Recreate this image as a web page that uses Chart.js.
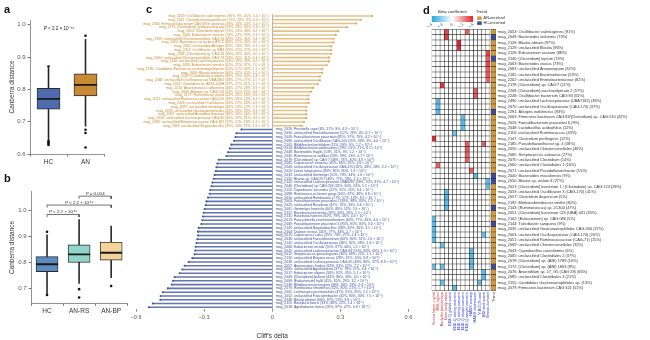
<!DOCTYPE html>
<html>
<head>
<meta charset="utf-8">
<script src="https://cdn.jsdelivr.net/npm/chart.js@4.4.1/dist/chart.umd.min.js"></script>
<style>
  html, body { margin: 0; padding: 0; background: #fff; }
  body { width: 650px; height: 340px; position: relative; overflow: hidden; font-family: 'Liberation Sans', Arial, sans-serif; }
  canvas { position: absolute; }
  .letter { position: absolute; font-size: 11px; font-weight: bold; line-height: 1; color: #111; }
</style>
</head>
<body>
<canvas id="chartA" width="140" height="170" style="left:0;top:0"></canvas>
<canvas id="chartB" width="140" height="170" style="left:0;top:170px"></canvas>
<canvas id="chartC" width="305" height="340" style="left:120px;top:0"></canvas>
<canvas id="chartD" width="225" height="340" style="left:425px;top:0"></canvas>
<canvas id="chartBeta" width="55" height="21" style="left:425px;top:6px"></canvas>
<canvas id="chartTrend" width="60" height="22" style="left:476px;top:9px"></canvas>
<div class="letter" style="left:4px;top:4px">a</div>
<div class="letter" style="left:4px;top:173px">b</div>
<div class="letter" style="left:146px;top:4px">c</div>
<div class="letter" style="left:423px;top:5px">d</div>
<script>
const FONT = "'Liberation Sans', Arial, sans-serif";
Chart.defaults.font.family = FONT;
Chart.defaults.animation = false;
Chart.defaults.responsive = false;
Chart.defaults.plugins.legend.display = false;
Chart.defaults.plugins.tooltip.enabled = false;

// ---- panel a: Canberra distance, HC vs AN
const aGroups = ['HC', 'AN'];
const aLow = [0.644, 0.686];
const aQ1 = [0.739, 0.780];
const aMed = [0.771, 0.814];
const aQ3 = [0.803, 0.848];
const aHigh = [0.866, 0.955];
const aOutGroup = ['HC', 'HC', 'HC', 'HC', 'HC', 'AN', 'AN', 'AN', 'AN'];
const aOutVal = [0.871, 0.640, 0.636, 0.632, 0.628, 0.966, 0.675, 0.665, 0.620];
const aColors = ['#4e6bad', '#c98a36'];
const aTicks = [0.6, 0.7, 0.8, 0.9, 1.0];
const aPText = 'P < 2.2 × 10⁻¹⁶';

// ---- panel b: HC, AN-RS, AN-BP
const bGroups = ['HC', 'AN-RS', 'AN-BP'];
const bLow = [0.682, 0.720, 0.742];
const bQ1 = [0.765, 0.800, 0.809];
const bMed = [0.793, 0.831, 0.837];
const bQ3 = [0.822, 0.867, 0.877];
const bHigh = [0.905, 0.964, 0.939];
const bOutGroup = ['HC', 'HC', 'AN-RS', 'AN-RS', 'AN-BP'];
const bOutVal = [0.917, 0.676, 0.698, 0.666, 0.710];
const bColors = ['#5b8dbf', '#8fd5c9', '#f4d49b'];
const bTicks = [0.7, 0.8, 0.9, 1.0];
const bPairs = [[0, 1], [0, 2], [1, 2]];
const bPairY = [0.983, 1.019, 1.053];
const bPairText = ['P < 2.2 × 10⁻¹⁶', 'P < 2.2 × 10⁻¹⁶', 'P = 0.014'];

// ---- panel c: Cliff's delta per MAG
const cNames = [
  'mag_2053: Oscillibacter valericigenes (80%, 9%, 31%, 3.4 × 10⁻⁷)',
  'mag_2047: Clostridium paraputrificum (72%, 13%, 9%, 3.4 × 10⁻⁷)',
  'mag_2060: Firmicutes bacterium CAG:83 in anorexia (78%, 16%, 24%, 3.4 × 10⁻⁷)',
  'mag_2771: [Clostridium] symbiosum group (74%, 19%, 30%, 3.4 × 10⁻⁷)',
  'mag_2054: Clostridium leptum (75%, 24%, 38%, 3.2 × 10⁻⁶)',
  'mag_2049: Eubacterium siraeum (70%, 22%, 39%, 3.1 × 10⁻⁶)',
  'mag_2199: unclassified Christensenellales CAG-74 (69%, 24%, 36%, 3.4 × 10⁻⁶)',
  'mag_2400: Ruminococcus lactaris ATCC (66%, 21%, 33%, 4.0 × 10⁻⁶)',
  'mag_2062: unclassified Alistipes (62%, 18%, 29%, 4.1 × 10⁻⁶)',
  'mag_2052: Oscillibacter sp. ER4 (59%, 15%, 27%, 4.6 × 10⁻⁶)',
  'mag_2058: [Clostridium] sp. CAG:58 (66%, 26%, 34%, 5.0 × 10⁻⁶)',
  'mag_2094: unclassified Christensenellales CAG-74 (58%, 20%, 31%, 5.4 × 10⁻⁶)',
  'mag_2140: unclassified Lachnospiraceae (54%, 18%, 28%, 6.2 × 10⁻⁶)',
  'mag_2083: Eubacterium ramulus (61%, 25%, 37%, 7.0 × 10⁻⁶)',
  'mag_2185: Candidatus Fimenecus excrementigallinarum (52%, 17%, 33%, 1.1 × 10⁻⁵)',
  'mag_2068: Blautia wexlerae (66%, 32%, 45%, 1.2 × 10⁻⁵)',
  'mag_2103: [Clostridium] scindens (49%, 18%, 30%, 1.4 × 10⁻⁵)',
  'mag_2084: unclassified Oscillospiraceae UBA1381 (48%, 17%, 27%, 1.5 × 10⁻⁵)',
  'mag_2051: Clostridium sp. AF34-10BH (57%, 27%, 41%, 1.7 × 10⁻⁵)',
  'mag_2013: Anaerotruncus colihominis (44%, 17%, 28%, 3.9 × 10⁻⁵)',
  'mag_2090: Alistipes sp. CAG:514 (41%, 15%, 25%, 4.8 × 10⁻⁵)',
  'mag_2177: Flavonifractor plautii (52%, 28%, 39%, 5.6 × 10⁻⁵)',
  'mag_2011: unclassified Ruminococcaceae CAG-110 (39%, 16%, 23%, 6.3 × 10⁻⁵)',
  'mag_2009: unclassified Oscillibacter (45%, 22%, 30%, 6.9 × 10⁻⁵)',
  'mag_2087: unclassified Gemmiger (36%, 13%, 22%, 7.4 × 10⁻⁵)',
  'mag_2035: unclassified Gastranaerophilales (42%, 20%, 33%, 8.1 × 10⁻⁵)',
  'mag_2097: unclassified Acutalibacteraceae (38%, 16%, 26%, 8.8 × 10⁻⁵)',
  'mag_2116: unclassified Lachnospiraceae CAG-95 (40%, 19%, 31%, 9.6 × 10⁻⁵)',
  'mag_2089: unclassified Ruminococcaceae CAG-382 (37%, 17%, 29%, 1.2 × 10⁻⁴)',
  'mag_2081: unclassified Negativibacillus (35%, 16%, 27%, 1.6 × 10⁻⁴)',
  'mag_2026: Prevotella copri (6%, 17%, 9%, 4.3 × 10⁻⁵)',
  'mag_2030: unclassified Faecalibacterium (12%, 29%, 4%, 8.7 × 10⁻⁵)',
  'mag_2049: Faecalibacterium prausnitzii (85%, 97%, 79%, 4.2 × 10⁻⁵)',
  'mag_2080: unclassified Oscillibacter CAG-103 (15%, 33%, 9%, 4.0 × 10⁻⁵)',
  'mag_2105: Bifidobacterium bifidum (11%, 29%, 9%, 1.2 × 10⁻⁵)',
  'mag_2010: Bifidobacterium adolescentis (29%, 51%, 21%, 6.1 × 10⁻⁶)',
  'mag_2048: Bacteroides fragilis (13%, 31%, 9%, 5.2 × 10⁻⁶)',
  'mag_2045: Ruminococcus callidus (19%, 39%, 13%, 4.7 × 10⁻⁶)',
  'mag_2079: [Clostridium] sp. CAG:7 (48%, 73%, 40%, 3.8 × 10⁻⁶)',
  'mag_2085: Coprococcus eutactus (41%, 66%, 35%, 2.8 × 10⁻⁶)',
  'mag_2040: unclassified Oscillospiraceae CAG-170 (24%, 48%, 18%, 2.2 × 10⁻⁶)',
  'mag_2020: Dorea longicatena (84%, 95%, 80%, 1.9 × 10⁻⁶)',
  'mag_2033: unclassified Gemmiger (51%, 78%, 44%, 1.6 × 10⁻⁶)',
  'mag_2152: Blautia sp. CAG:257 (46%, 72%, 39%, 1.3 × 10⁻⁶)',
  'mag_2142: unclassified Lachnospiraceae UBA3282 (39%, 70%, 31%, 4.7 × 10⁻⁶)',
  'mag_2046: [Clostridium] sp. CAG:245 (31%, 60%, 24%, 1.1 × 10⁻⁶)',
  'mag_2114: Coprobacter secundus (22%, 51%, 15%, 9.4 × 10⁻⁷)',
  'mag_2088: Ruminococcus bromii group (56%, 87%, 48%, 8.8 × 10⁻⁷)',
  'mag_2050: unclassified Romboutsia (27%, 57%, 19%, 8.1 × 10⁻⁷)',
  'mag_2003: Faecalibacterium prausnitzii 2 (88%, 98%, 83%, 7.2 × 10⁻⁷)',
  'mag_2025: unclassified Roseburia (42%, 74%, 33%, 6.6 × 10⁻⁷)',
  'mag_2061: Gemmiger formicilis (60%, 89%, 52%, 5.9 × 10⁻⁷)',
  'mag_2127: Roseburia intestinalis (33%, 66%, 26%, 5.1 × 10⁻⁷)',
  'mag_2131: Roseburia hominis (62%, 79%, 46%, 4.6 × 10⁻⁷)',
  'mag_2013: Parasutterella excrementihominis (60%, 77%, 43%, 4.0 × 10⁻⁷)',
  'mag_2069: Faecalibacterium prausnitzii 3 (85%, 95%, 80%, 3.6 × 10⁻⁷)',
  'mag_2145: unclassified Negativibacillus (38%, 69%, 30%, 3.1 × 10⁻⁷)',
  'mag_2104: Dialister invisus (45%, 77%, 34%, 2.7 × 10⁻⁷)',
  'mag_2015: Coprococcus catus (35%, 70%, 27%, 2.4 × 10⁻⁷)',
  'mag_2036: unclassified Faecalibacterium (60%, 90%, 51%, 2.0 × 10⁻⁷)',
  'mag_2141: unclassified Oscillospiraceae (48%, 82%, 38%, 1.8 × 10⁻⁷)',
  'mag_2066: Eubacterium rectale (55%, 87%, 44%, 1.5 × 10⁻⁷)',
  'mag_2041: unclassified Lachnospiraceae CAG-81 (50%, 84%, 40%, 1.3 × 10⁻⁷)',
  'mag_2012: Streptococcus parasanguinis (30%, 69%, 22%, 1.1 × 10⁻⁷)',
  'mag_2132: unclassified Butyricicoccus (28%, 67%, 20%, 9.8 × 10⁻⁸)',
  'mag_2038: unclassified Lachnospiraceae CAG-95 (48%, 86%, 37%, 8.9 × 10⁻⁸)',
  'mag_2057: Anaerostipes hadrus (63%, 93%, 52%, 7.2 × 10⁻⁸)',
  'mag_2065: unclassified Agathobacter (37%, 78%, 27%, 6.4 × 10⁻⁸)',
  'mag_2017: Eubacterium eligens (58%, 92%, 45%, 5.1 × 10⁻⁸)',
  'mag_2006: [Clostridium] bolteae (44%, 86%, 33%, 4.0 × 10⁻⁸)',
  'mag_2008: [Eubacterium] hallii (41%, 85%, 29%, 3.2 × 10⁻⁸)',
  'mag_2139: Bifidobacterium longum (39%, 84%, 28%, 2.4 × 10⁻⁸)',
  'mag_2075: Romboutsia timonensis (32%, 80%, 21%, 1.7 × 10⁻⁸)',
  'mag_2001: Lachnospira pectinoschiza (47%, 91%, 35%, 1.2 × 10⁻⁸)',
  'mag_2052: unclassified Fusicatenibacter (42%, 90%, 30%, 7.5 × 10⁻⁹)',
  'mag_2148: Blautia obeum (66%, 97%, 53%, 3.8 × 10⁻⁹)',
  'mag_2115: Roseburia faecis (33%, 88%, 22%, 1.4 × 10⁻⁹)',
  'mag_2018: Agathobacter faecis (59%, 97%, 47%, 6.8 × 10⁻¹⁰)'
];
const cDelta = [
  0.44, 0.39, 0.37, 0.33, 0.29, 0.28, 0.27, 0.27, 0.26, 0.26,
  0.26, 0.25, 0.25, 0.24, 0.22, 0.22, 0.21, 0.21, 0.20, 0.18,
  0.17, 0.16, 0.16, 0.16, 0.15, 0.15, 0.15, 0.15, 0.14, 0.13,
  -0.136, -0.158, -0.162, -0.168, -0.180, -0.187, -0.195, -0.202, -0.236, -0.242,
  -0.246, -0.249, -0.254, -0.258, -0.264, -0.268, -0.273, -0.276, -0.283, -0.290,
  -0.293, -0.298, -0.302, -0.305, -0.308, -0.312, -0.324, -0.327, -0.327, -0.330,
  -0.334, -0.337, -0.339, -0.342, -0.352, -0.368, -0.386, -0.396, -0.408, -0.430,
  -0.437, -0.442, -0.460, -0.482, -0.492, -0.493, -0.526, -0.543
];
const cTicks = [-0.6, -0.3, 0, 0.3, 0.6];
const cPosBar = '#e5c189', cNegBar = '#6576ae';
const cPosText = '#c6862c', cNegText = '#3a4d97';

// ---- panel d: associations with clinical variables
const dRows = [
  'mag_2053: Oscillibacter valericigenes (91%)',
  'mag_2049: Bacteroides uniformis (73%)',
  'mag_2128: Blautia obeum (97%)',
  'mag_2129: unclassified Blautia (96%)',
  'mag_2128: Eubacterium siraeum (88%)',
  'mag_2140: [Clostridium] leptum (73%)',
  'mag_2063: Bacteroides ovatus (73%)',
  'mag_2083: unclassified Anaerotignum (62%)',
  'mag_2165: unclassified Bacteroidaceae (53%)',
  'mag_2202: unclassified Enterobacteriaceae (82%)',
  'mag_2178: [Clostridium] sp. CAG:7 (51%)',
  'mag_2208: [Clostridium] saccharolyticum 2 (57%)',
  'mag_2248: Oscillibacter bacterium CAG:93 (61%)',
  'mag_2490: unclassified Lachnospiraceae (UBA7182) (36%)',
  'mag_2670: unclassified Oscillospiraceae (CAG-170) (37%)',
  'mag_2291: Alistipes indistinctus (93%)',
  'mag_2063: Firmicutes bacterium CAG:83/[Clostridium] sp. CAG:510 (42%)',
  'mag_2026: Faecalibacterium prausnitzii 6 (9%)',
  'mag_2048: Lactobacillus acidophilus (12%)',
  'mag_2110: unclassified Ruminococcus (43%)',
  'mag_2147: Clostridium perfringens (12%)',
  'mag_2185: Pseudoflavonifractor sp. 4 (58%)',
  'mag_2055: unclassified Christensenellales (46%)',
  'mag_2085: Streptococcus salivarius (27%)',
  'mag_2070: unclassified Clostridium (14%)',
  'mag_2060: unclassified Clostridiales 1 (16%)',
  'mag_2071: unclassified Pseudoflavonifractor (15%)',
  'mag_2040: Bacteroides massiliensis (9%)',
  'mag_2050: Blautia sp. isolate 4 (27%)',
  'mag_2023: [Clostridium] bacterium 1 / [Clostridium] sp. CAG:124 (29%)',
  'mag_2033: unclassified Oscillibacter 3 (CAG-170) (41%)',
  'mag_2057: Clostridium disporicum (5%)',
  'mag_2192: Methanobrevibacter smithii (80%)',
  'mag_2143: [Ruminococcus] sp. JC304 (47%)',
  'mag_2051: [Clostridium] bacterium CIS (UBA) 031 (35%)',
  'mag_2102: [Eubacterium] sp. CAG:086 (5%)',
  'mag_2144: Turicibacter sanguinis (9%)',
  'mag_2035: unclassified Gastranaerophilales CAG-306 (27%)',
  'mag_2003: unclassified Oscillospiraceae (CAG-170) (20%)',
  'mag_2051: unclassified Ruminococcaceae (CAG-71) (15%)',
  'mag_2069: unclassified Christensenellales (32%)',
  'mag_2043: Coprobacillus cateniformis (6%)',
  'mag_2065: unclassified Clostridiales 2 (37%)',
  'mag_2078: [Clostridium] sp. (ANI) 1789 (10%)',
  'mag_2172: [Clostridium] sp. (ANI) 1803 (8%)',
  'mag_2076: Anaerofilum sp. 17_G5 (CAG:28) (66%)',
  'mag_2085: unclassified Clostridiales 3 (21%)',
  'mag_2155: Candidatus Gastranaerophilales sp. (13%)',
  'mag_2079: Firmicutes bacterium CAG:321 (51%)'
];
const dCols = [
  'Serum leptin, ng/ml', 'BMI, kg/m²', 'Body fat percentage', 'Lean body mass',
  'EDE-Q global score', 'EDE-Q eating restraint', 'EDE-Q eating concern', 'EDE-Q shape concern',
  'EDE-Q weight concern', 'HADS anxiety', 'HADS depression', 'Y-BOCS total',
  'BDI total score', 'Illness duration'
];
const dColColors = [
  '#e0242c', '#e0242c', '#e0242c', '#e0242c',
  '#2631d6', '#2631d6', '#2631d6', '#2631d6', '#2631d6',
  '#2631d6', '#2631d6', '#2631d6', '#2631d6', '#2631d6'
];
// [row, column, beta]
const heatHits = [
  [0, 3, 0.34], [1, 3, 0.36], [0, 8, 0.30], [2, 6, 0.40], [3, 6, 0.38],
  [4, 13, 0.35], [5, 13, 0.30], [6, 13, 0.34], [7, 13, 0.30], [8, 13, 0.31], [9, 13, 0.28],
  [10, 2, 0.38], [11, 10, 0.30], [12, 10, 0.31],
  [13, 1, -0.32], [14, 1, -0.30], [15, 1, -0.32],
  [16, 7, -0.30], [17, 7, -0.32], [18, 7, -0.30], [19, 5, -0.28],
  [20, 0, 0.40], [21, 8, 0.30], [21, 12, 0.30], [22, 8, 0.32], [23, 8, 0.30], [24, 8, 0.30],
  [25, 1, 0.30], [26, 9, 0.30], [27, 10, -0.30], [28, 13, -0.30], [29, 13, -0.30],
  [30, 3, -0.30], [31, 3, -0.32], [32, 3, -0.30], [33, 3, -0.30],
  [35, 0, -0.30], [36, 0, -0.30], [37, 0, -0.32], [38, 0, -0.30], [39, 0, -0.31],
  [40, 2, -0.30], [38, 12, -0.30],
  [41, 9, -0.30], [42, 9, -0.31], [43, 9, -0.30], [44, 9, -0.30], [44, 0, -0.30], [44, 2, -0.30],
  [45, 12, -0.30], [46, 12, -0.31], [47, 2, -0.30], [47, 11, -0.30], [48, 5, -0.30]
];
const trendHCRows = [1, 5, 15, 27, 28, 33, 36, 44];
const trendNames = ['AN-enriched', 'HC-enriched'];
const trendColors = ['#d29b3e', '#3d4d9a'];
const betaTicks = [-0.4, -0.2, 0, 0.2, 0.4];
const betaStopColors = ['#25a8e0', '#ffffff', '#e2252d'];

// ---------- helpers
function hexRgb(h) {
  const n = parseInt(h.slice(1), 16);
  return [(n >> 16) & 255, (n >> 8) & 255, n & 255];
}
function betaColor(b) {
  if (b === null || b === undefined) return '#ffffff';
  const t = Math.min(1, Math.abs(b) / 0.4);
  const end = hexRgb(b < 0 ? betaStopColors[0] : betaStopColors[2]);
  const c = end.map(v => Math.round(255 + (v - 255) * t));
  return `rgb(${c[0]},${c[1]},${c[2]})`;
}
function fixedTicks(vals) {
  return scale => { scale.ticks = vals.map(v => ({ value: v })); };
}
function minusFmt(v) {
  if (v === 0) return '0';
  return (v < 0 ? '\u2212' : '') + Math.abs(v).toFixed(1);
}
function drawP(ctx, text, x, y, size) {
  const rest = text.slice(1);
  ctx.font = `italic ${size}px ${FONT}`;
  const wP = ctx.measureText('P').width;
  ctx.font = `${size}px ${FONT}`;
  const wR = ctx.measureText(rest).width;
  const x0 = x - (wP + wR) / 2;
  ctx.textAlign = 'left';
  ctx.textBaseline = 'alphabetic';
  ctx.font = `italic ${size}px ${FONT}`;
  ctx.fillText('P', x0, y);
  ctx.font = `${size}px ${FONT}`;
  ctx.fillText(rest, x0 + wP, y);
}

// draws P value notes at data positions
const notesPlugin = {
  id: 'notes',
  afterDatasetsDraw(chart, args, opts) {
    const ctx = chart.ctx;
    ctx.save();
    ctx.fillStyle = '#222';
    (opts.items || []).forEach(it => {
      const x = chart.scales.x.getPixelForValue(it.x);
      const y = chart.scales.y.getPixelForValue(it.y) - (it.lift || 0);
      drawP(ctx, it.text, x, y, opts.size || 4.5);
    });
    ctx.restore();
  }
};

// row labels either side of the zero line (panel c)
const rowLabelPlugin = {
  id: 'rowLabels',
  afterDatasetsDraw(chart, args, opts) {
    const { ctx, scales: { x, y } } = chart;
    const x0 = x.getPixelForValue(0);
    const vals = chart.data.datasets[0].data;
    ctx.save();
    ctx.font = `${opts.size}px ${FONT}`;
    ctx.textBaseline = 'middle';
    chart.data.labels.forEach((t, i) => {
      const pos = vals[i] >= 0;
      ctx.fillStyle = pos ? cPosText : cNegText;
      ctx.textAlign = pos ? 'right' : 'left';
      ctx.fillText(t, pos ? x0 - opts.gap : x0 + opts.gap, y.getPixelForValue(i));
    });
    ctx.restore();
  }
};

function boxDatasets(groups, low, q1, med, q3, high, outG, outV, colors, boxW) {
  return [
    { type: 'bar', data: groups.map((g, i) => [low[i], high[i]]), backgroundColor: '#222',
      barThickness: 0.9, grouped: false, order: 4 },
    { type: 'bar', data: groups.map((g, i) => [q1[i], q3[i]]), backgroundColor: colors,
      borderColor: '#2b2b2b', borderWidth: 0.9, borderSkipped: false,
      barThickness: boxW, grouped: false, order: 3 },
    { type: 'line', data: groups.map((g, i) => ({ x: g, y: med[i] })), showLine: false,
      pointStyle: 'line', pointRadius: boxW / 2, pointBorderWidth: 1.8, pointBorderColor: '#1a1a1a', order: 2 },
    { type: 'line', data: outG.map((g, i) => ({ x: g, y: outV[i] })), showLine: false,
      pointStyle: 'circle', pointRadius: 1.3, pointBackgroundColor: '#111', pointBorderWidth: 0, order: 1 }
  ];
}

function boxScales(min, max, ticks, leftW, bottomH) {
  return {
    x: {
      type: 'category',
      ticks: { font: { size: 6.5 }, color: '#333', padding: 2 },
      grid: { display: true, drawOnChartArea: false, tickLength: 2.5, color: '#777' },
      border: { color: '#777', width: 0.8 },
      afterFit: s => { s.height = bottomH; }
    },
    y: {
      type: 'linear', min: min, max: max,
      afterBuildTicks: fixedTicks(ticks),
      ticks: { font: { size: 6 }, color: '#555', padding: 2, callback: v => v.toFixed(1) },
      grid: { display: true, drawOnChartArea: false, tickLength: 2.5, color: '#777' },
      border: { color: '#777', width: 0.8 },
      title: { display: true, text: 'Canberra distance', font: { size: 6.5 }, color: '#333', padding: { top: 4.2, bottom: 0 } },
      afterFit: s => { s.width = leftW; }
    }
  };
}

// ---------- panel a
new Chart(document.getElementById('chartA'), {
  type: 'bar',
  data: {
    labels: aGroups,
    datasets: boxDatasets(aGroups, aLow, aQ1, aMed, aQ3, aHigh, aOutGroup, aOutVal, aColors, 23)
  },
  options: {
    layout: { padding: { top: 20, right: 36, left: 4, bottom: 0 } },
    scales: boxScales(0.6, 1.015, aTicks, 26, 16),
    plugins: { notes: { size: 4.6, items: [{ x: 0.28, y: 0.984, text: aPText }] } }
  },
  plugins: [notesPlugin]
});

// ---------- panel b
const bracketSets = bPairs.map((p, k) => ({
  type: 'line',
  data: [
    { x: bGroups[p[0]], y: bPairY[k] - 0.01 }, { x: bGroups[p[0]], y: bPairY[k] },
    { x: bGroups[p[1]], y: bPairY[k] }, { x: bGroups[p[1]], y: bPairY[k] - 0.01 }
  ],
  borderColor: '#333', borderWidth: 0.7, pointRadius: 0, order: 0
}));
new Chart(document.getElementById('chartB'), {
  type: 'bar',
  data: {
    labels: bGroups,
    datasets: boxDatasets(bGroups, bLow, bQ1, bMed, bQ3, bHigh, bOutGroup, bOutVal, bColors, 22).concat(bracketSets)
  },
  options: {
    layout: { padding: { top: 21.7, right: 10, left: 4, bottom: 0 } },
    scales: boxScales(0.644, 1.07, bTicks, 27, 36.7),
    plugins: {
      notes: {
        size: 4.4,
        items: bPairs.map((p, k) => ({ x: (p[0] + p[1]) / 2, y: bPairY[k], lift: 1.5, text: bPairText[k] }))
      }
    }
  },
  plugins: [notesPlugin]
});

// ---------- panel c
new Chart(document.getElementById('chartC'), {
  type: 'bar',
  data: {
    labels: cNames,
    datasets: [
      { data: cDelta, backgroundColor: cDelta.map(v => v >= 0 ? cPosBar : cNegBar),
        barThickness: 0.9, order: 2 },
      { type: 'line', indexAxis: 'y', data: cDelta.map((v, i) => ({ x: v, y: cNames[i] })),
        showLine: false, pointRadius: 1.05, pointBorderWidth: 0,
        pointBackgroundColor: cDelta.map(v => v >= 0 ? '#d9a85e' : '#44569a'), order: 1 }
    ]
  },
  options: {
    indexAxis: 'y',
    layout: { padding: { top: 14.1, left: 16, right: 16.5, bottom: 0 } },
    scales: {
      x: {
        type: 'linear', min: -0.6, max: 0.6,
        afterBuildTicks: fixedTicks(cTicks),
        ticks: { font: { size: 5.6 }, color: '#555', padding: 2, callback: v => minusFmt(v) },
        grid: { display: true, drawOnChartArea: false, tickLength: 2.5, color: '#888' },
        border: { display: false },
        title: { display: true, text: "Cliff's delta", font: { size: 6.5 }, color: '#333', padding: { top: 7, bottom: 0 } },
        afterFit: s => { s.height = 30.8; }
      },
      y: {
        type: 'category', position: { x: 0 },
        ticks: { display: false },
        grid: { display: false, drawTicks: false },
        border: { color: '#9a9a9a', width: 0.8 }
      }
    },
    plugins: { rowLabels: { size: 3.45, gap: 3.5 } }
  },
  plugins: [rowLabelPlugin]
});

// ---------- panel d heatmap
const heatBeta = dRows.map(() => dCols.map(() => null));
heatHits.forEach(([r, c, b]) => { heatBeta[r][c] = b; });
const trendFrom = dCols.length + 0.25, trendTo = dCols.length + 1.45;
const heatSets = dCols.map((name, j) => ({
  label: name,
  data: dRows.map(() => [j, j + 1]),
  backgroundColor: dRows.map((_, r) => betaColor(heatBeta[r][j])),
  borderColor: '#222', borderWidth: 0.5, borderSkipped: false,
  barPercentage: 1, categoryPercentage: 1, grouped: false
}));
heatSets.push({
  label: 'Trend',
  data: dRows.map(() => [trendFrom, trendTo]),
  backgroundColor: dRows.map((_, r) => trendHCRows.includes(r) ? trendColors[1] : trendColors[0]),
  borderColor: '#222', borderWidth: 0.5, borderSkipped: false,
  barPercentage: 1, categoryPercentage: 1, grouped: false
});
const dTickLabels = dCols.concat(['Trend']);
const dTickColors = dColColors.concat(['#222']);
new Chart(document.getElementById('chartD'), {
  type: 'bar',
  data: { labels: dRows, datasets: heatSets },
  options: {
    indexAxis: 'y',
    layout: { padding: { top: 29.3, left: 6.7, right: 0, bottom: 0 } },
    scales: {
      x: {
        type: 'linear', min: 0, max: trendTo,
        afterBuildTicks: fixedTicks(dCols.map((c, j) => j + 0.5).concat([(trendFrom + trendTo) / 2])),
        ticks: {
          autoSkip: false, minRotation: 90, maxRotation: 90, padding: 1.5,
          font: { size: 3.8 }, color: c => dTickColors[c.index],
          callback: (v, i) => dTickLabels[i]
        },
        grid: { display: false, drawTicks: false },
        border: { display: false },
        afterFit: s => { s.height = 49.3; }
      },
      y: {
        type: 'category', position: 'right',
        ticks: { autoSkip: false, font: { size: 3.9 }, color: '#333', padding: 2 },
        grid: { display: false, drawTicks: false },
        border: { display: false },
        afterFit: s => { s.width = 154; }
      }
    }
  }
});

// ---------- colour bar legend
new Chart(document.getElementById('chartBeta'), {
  type: 'bar',
  data: {
    labels: ['beta'],
    datasets: [{
      data: [[betaTicks[0], betaTicks[betaTicks.length - 1]]],
      barPercentage: 1, categoryPercentage: 1, borderWidth: 0,
      backgroundColor: c => {
        const area = c.chart.chartArea;
        if (!area) return '#fff';
        const g = c.chart.ctx.createLinearGradient(area.left, 0, area.right, 0);
        betaStopColors.forEach((col, k) => g.addColorStop(k / (betaStopColors.length - 1), col));
        return g;
      }
    }]
  },
  options: {
    indexAxis: 'y',
    layout: { padding: { left: 6.7, right: 7, top: 0, bottom: 0 } },
    plugins: {
      title: { display: true, text: 'Beta coefficient', font: { size: 4.2, weight: 'normal' }, color: '#222', padding: { top: 3, bottom: 2 } }
    },
    scales: {
      x: {
        min: betaTicks[0], max: betaTicks[betaTicks.length - 1],
        afterBuildTicks: fixedTicks(betaTicks),
        ticks: { font: { size: 3.8 }, color: '#222', padding: 0.5, callback: v => v === 0 ? '0' : (v < 0 ? '\u2212' : '') + Math.abs(v).toFixed(1) },
        grid: { display: false, drawTicks: false },
        border: { display: false },
        afterFit: s => { s.height = 5; }
      },
      y: { display: false }
    }
  }
});

// ---------- trend legend
new Chart(document.getElementById('chartTrend'), {
  type: 'bar',
  data: {
    labels: [],
    datasets: trendNames.map((n, k) => ({ label: n, data: [], backgroundColor: trendColors[k], borderWidth: 0 }))
  },
  options: {
    plugins: {
      legend: {
        display: true, position: 'left', align: 'start',
        title: { display: true, text: 'Trend', position: 'start', font: { size: 4.2 }, color: '#222', padding: 0.5 },
        labels: { boxWidth: 4.5, boxHeight: 3.5, padding: 1.2, font: { size: 3.8 }, color: '#222' }
      }
    },
    scales: { x: { display: false }, y: { display: false } }
  }
});
</script>
</body>
</html>
